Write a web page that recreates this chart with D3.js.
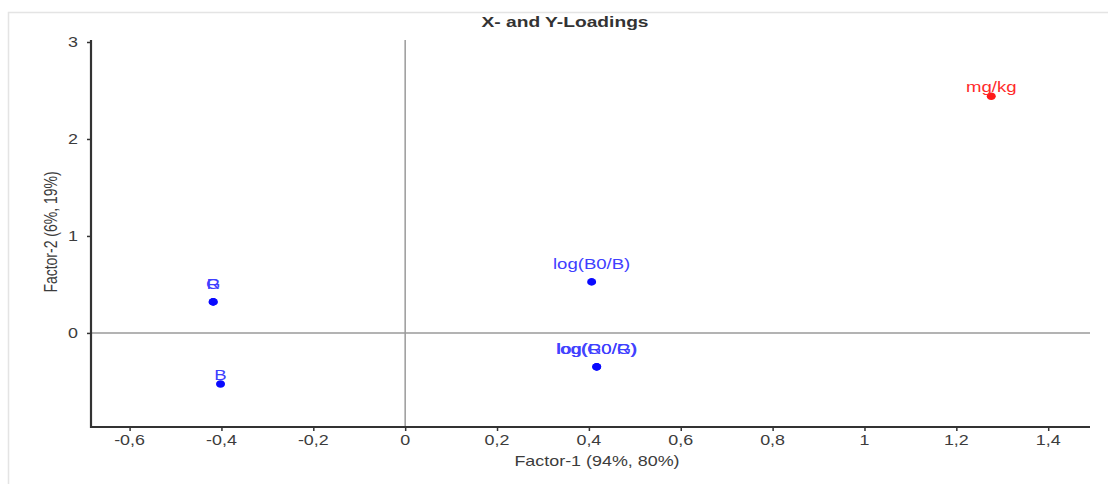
<!DOCTYPE html>
<html>
<head>
<meta charset="utf-8">
<script src="https://cdn.jsdelivr.net/npm/d3@7"></script>
<style>
  html, body { margin: 0; padding: 0; background: #fff; }
  svg { display: block; font-family: "Liberation Sans", Arial, sans-serif; }
</style>
</head>
<body>
<svg id="chart" width="1108" height="484"></svg>
<script>
// Loadings on the first two factors
const variables = ["mg/kg", "log(B0/B)", "log(R0/R)", "log(G0/G)", "R", "G", "B"];
const block     = ["Y", "X", "X", "X", "X", "X", "X"];
const factor1   = [1.276, 0.406, 0.417, 0.417, -0.418, -0.418, -0.402];
const factor2   = [2.44, 0.526, -0.35, -0.35, 0.32, 0.32, -0.526];

const xTickValues = [-0.6, -0.4, -0.2, 0, 0.2, 0.4, 0.6, 0.8, 1, 1.2, 1.4];
const xTickLabels = ["-0,6", "-0,4", "-0,2", "0", "0,2", "0,4", "0,6", "0,8", "1", "1,2", "1,4"];
const yTickValues = [0, 1, 2, 3];
const yTickLabels = ["0", "1", "2", "3"];

const title  = "X- and Y-Loadings";
const xTitle = "Factor-1 (94%, 80%)";
const yTitle = "Factor-2 (6%, 19%)";

const svg = d3.select("#chart");
const SX = 1.28; // horizontal text stretch

const xMin = -0.684, xMax = 1.491, yMin = -0.97, yMax = 3.0;
const x = d3.scaleLinear().domain([xMin, xMax]).range([91, 1090]);
const y = d3.scaleLinear().domain([yMin, yMax]).range([427, 42]);

// outer frame (top and left edges)
svg.append("path")
  .attr("d", "M8.5,484 L8.5,12.5 L1108,12.5")
  .attr("fill", "none").attr("stroke", "#e4e4e4").attr("stroke-width", 1.5);

// title
svg.append("text")
  .attr("transform", `translate(565,27) scale(${SX},1)`)
  .attr("text-anchor", "middle")
  .attr("font-size", 15).attr("font-weight", "bold").attr("fill", "#333")
  .text(title);

// zero reference lines
svg.append("line")
  .attr("x1", x(0)).attr("x2", x(0)).attr("y1", y(yMax) - 2).attr("y2", y(yMin))
  .attr("stroke", "#9a9a9a").attr("stroke-width", 1.5);
svg.append("line")
  .attr("x1", x(xMin)).attr("x2", x(xMax)).attr("y1", y(0)).attr("y2", y(0))
  .attr("stroke", "#9a9a9a").attr("stroke-width", 1.5);

// x axis
const xMinor = d3.range(-0.5, 1.5, 0.2).map(v => +v.toFixed(2));
const gx = svg.append("g").attr("transform", `translate(0,${y(yMin)})`);
gx.call(d3.axisBottom(x).tickValues(xMinor).tickSize(3).tickFormat(""));
gx.call(d3.axisBottom(x).tickValues(xTickValues).tickSize(4).tickFormat(""));
gx.selectAll(".domain").attr("d", `M${x(xMin) - 1},0H${x(xMax)}`)
  .attr("stroke", "#333").attr("stroke-width", 2.2);
gx.selectAll(".tick line").attr("stroke", "#333").attr("stroke-width", 1.5);
gx.selectAll(".tick-label").data(xTickValues).join("text")
  .attr("transform", d => `translate(${x(d)},18) scale(${SX},1)`)
  .attr("text-anchor", "middle").attr("font-size", 14).attr("fill", "#3c3c3c")
  .text((d, i) => xTickLabels[i]);

// y axis
const yMinor = [-0.5, 0.5, 1.5, 2.5];
const gy = svg.append("g").attr("transform", `translate(${x(xMin)},0)`);
gy.call(d3.axisLeft(y).tickValues(yMinor).tickSize(3).tickFormat(""));
gy.call(d3.axisLeft(y).tickValues(yTickValues).tickSize(4).tickFormat(""));
gy.selectAll(".domain").attr("d", `M0,${y(yMax) - 2}V${y(yMin) + 1}`)
  .attr("stroke", "#333").attr("stroke-width", 2.2);
gy.selectAll(".tick line").attr("stroke", "#333").attr("stroke-width", 1.5);
gy.selectAll(".tick-label").data(yTickValues).join("text")
  .attr("transform", d => `translate(-13,${y(d) + 5}) scale(${SX},1)`)
  .attr("text-anchor", "end").attr("font-size", 14).attr("fill", "#3c3c3c")
  .text((d, i) => yTickLabels[i]);

// axis titles
svg.append("text")
  .attr("transform", `translate(597,466) scale(${SX},1)`)
  .attr("text-anchor", "middle").attr("font-size", 14).attr("fill", "#3c3c3c")
  .text(xTitle);
svg.append("text")
  .attr("transform", `translate(57,232) scale(${SX},1) rotate(-90)`)
  .attr("text-anchor", "middle").attr("font-size", 14).attr("fill", "#3c3c3c")
  .text(yTitle);

// points and labels
const pts = variables.map((name, i) => ({ name, block: block[i], f1: factor1[i], f2: factor2[i] }));
const colour = d => d.block === "Y" ? "#ff1a1a" : "#0a0aff";
const labelColour = d => d.block === "Y" ? "#ff2a2a" : "#4040ff";
const labelLift = d => (d.name === "B" || d.name === "mg/kg") ? 4 : 13;

svg.append("g").selectAll("ellipse").data(pts).join("ellipse")
  .attr("cx", d => x(d.f1)).attr("cy", d => y(d.f2))
  .attr("rx", 4.5).attr("ry", 3.8)
  .attr("fill", colour);

svg.append("g").selectAll("text").data(pts).join("text")
  .attr("transform", d => `translate(${x(d.f1)},${y(d.f2) - labelLift(d)}) scale(${SX},1)`)
  .attr("text-anchor", "middle").attr("font-size", 14.5)
  .attr("fill", labelColour)
  .text(d => d.name);
</script>
</body>
</html>
